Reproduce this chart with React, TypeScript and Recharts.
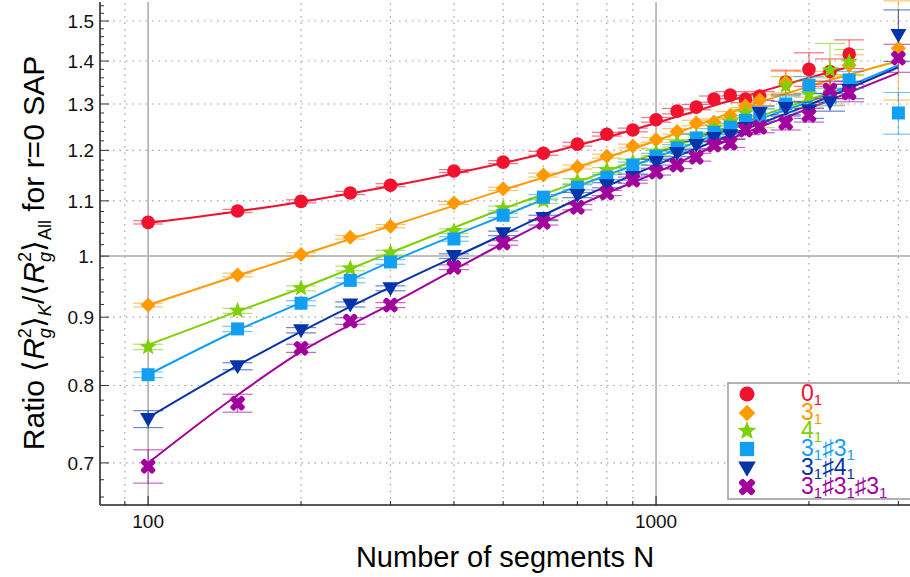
import React from 'react'
import { ComposedChart, Line, Scatter, ErrorBar, XAxis, YAxis, ReferenceLine } from 'recharts'

document.body.style.margin = '0'

// --- data ---
const N = [100, 150, 200, 250, 300, 400, 500, 600, 700, 800, 900, 1000, 1100, 1200, 1300, 1400, 1500, 1600, 1800, 2000, 2200, 2400, 3000]

const Y_01 = [1.060, 1.081, 1.099, 1.115, 1.130, 1.158, 1.176, 1.194, 1.213, 1.234, 1.243, 1.265, 1.284, 1.293, 1.311, 1.320, 1.311, 1.318, 1.350, 1.380, 1.375, 1.417, null]
const E_01 = [0.003, 0.003, 0.003, 0.003, 0.003, 0.003, 0.003, 0.004, 0.004, 0.004, 0.004, 0.005, 0.006, 0.006, 0.007, 0.008, 0.008, 0.01, 0.028, 0.04, 0.03, 0.035, 0]
const Y_31 = [0.919, 0.968, 1.003, 1.033, 1.053, 1.096, 1.123, 1.150, 1.166, 1.188, 1.209, 1.222, 1.240, 1.258, 1.260, 1.275, 1.296, 1.309, 1.350, 1.345, 1.330, 1.390, 1.431]
const E_31 = [0.003, 0.003, 0.003, 0.003, 0.003, 0.003, 0.003, 0.004, 0.004, 0.004, 0.004, 0.005, 0.006, 0.006, 0.007, 0.008, 0.008, 0.012, 0.025, 0.03, 0.03, 0.025, 0.122]
const Y_41 = [0.855, 0.910, 0.946, 0.979, 1.006, 1.044, 1.086, 1.100, 1.138, 1.160, 1.176, 1.196, 1.215, 1.228, 1.247, 1.260, 1.280, 1.268, 1.341, 1.322, 1.378, 1.398, null]
const E_41 = [0.004, 0.004, 0.004, 0.004, 0.004, 0.004, 0.004, 0.005, 0.005, 0.005, 0.006, 0.007, 0.008, 0.008, 0.009, 0.01, 0.012, 0.02, 0.022, 0.03, 0.065, 0.03, 0]
const Y_3131 = [0.815, 0.882, 0.922, 0.959, 0.990, 1.030, 1.073, 1.107, 1.126, 1.146, 1.170, 1.188, 1.205, 1.226, 1.238, 1.249, 1.264, 1.275, 1.300, 1.343, 1.316, 1.355, 1.280]
const E_3131 = [0.004, 0.004, 0.004, 0.004, 0.004, 0.004, 0.004, 0.005, 0.005, 0.005, 0.006, 0.006, 0.007, 0.008, 0.008, 0.009, 0.01, 0.015, 0.018, 0.02, 0.02, 0.02, 0.046]
const Y_3141 = [0.755, 0.827, 0.880, 0.920, 0.946, 1.000, 1.040, 1.068, 1.111, 1.130, 1.146, 1.176, 1.194, 1.211, 1.226, 1.232, 1.247, 1.280, 1.291, 1.286, 1.304, 1.332, 1.464]
const E_3141 = [0.011, 0.005, 0.004, 0.004, 0.004, 0.004, 0.004, 0.005, 0.005, 0.005, 0.006, 0.006, 0.007, 0.008, 0.008, 0.009, 0.01, 0.015, 0.015, 0.018, 0.02, 0.02, 0.065]
const Y_313131 = [0.696, 0.776, 0.853, 0.894, 0.919, 0.981, 1.023, 1.060, 1.088, 1.115, 1.140, 1.156, 1.170, 1.186, 1.211, 1.215, 1.243, 1.249, 1.258, 1.275, 1.332, 1.325, 1.407]
const E_313131 = [0.02, 0.012, 0.006, 0.005, 0.004, 0.004, 0.004, 0.005, 0.005, 0.005, 0.006, 0.006, 0.007, 0.008, 0.008, 0.009, 0.01, 0.012, 0.015, 0.015, 0.02, 0.02, 0.034]

// fitted curves, read at a few N
const FIT_N = [100, 150, 200, 300, 500, 700, 1000, 1500, 2000, 3000]
const FIT_N_SHORT = [100, 150, 200, 300, 500, 700, 1000, 1500, 2000, 2400]
const FIT_01 = [1.059, 1.080, 1.098, 1.128, 1.174, 1.210, 1.258, 1.318, 1.360, 1.386]
const FIT_31 = [0.919, 0.967, 1.002, 1.053, 1.121, 1.166, 1.220, 1.293, 1.340, 1.400]
const FIT_41 = [0.858, 0.909, 0.946, 1.006, 1.085, 1.136, 1.195, 1.262, 1.310, 1.340]
const FIT_3131 = [0.815, 0.880, 0.923, 0.990, 1.072, 1.128, 1.186, 1.256, 1.305, 1.390]
const FIT_3141 = [0.757, 0.828, 0.878, 0.948, 1.038, 1.103, 1.170, 1.245, 1.298, 1.385]
const FIT_313131 = [0.700, 0.787, 0.848, 0.920, 1.022, 1.090, 1.155, 1.237, 1.290, 1.372]

// axes
const X_MAJOR = [100, 1000]
const X_MINOR = [90, 200, 300, 400, 500, 600, 700, 800, 900, 2000, 3000]
const Y_MAJOR = [0.7, 0.8, 0.9, 1.0, 1.1, 1.2, 1.3, 1.4, 1.5]
const Y_MAJOR_LABELS = ['0.7', '0.8', '0.9', '1.', '1.1', '1.2', '1.3', '1.4', '1.5']
const Y_MINOR = [0.66, 0.68, 0.72, 0.74, 0.76, 0.78, 0.82, 0.84, 0.86, 0.88, 0.92, 0.94, 0.96, 0.98, 1.02, 1.04, 1.06, 1.08, 1.12, 1.14, 1.16, 1.18, 1.22, 1.24, 1.26, 1.28, 1.32, 1.34, 1.36, 1.38, 1.42, 1.44, 1.46, 1.48, 1.52, 1.54]

const LEGEND_LABELS = [
  ['0', '1'],
  ['3', '1'],
  ['4', '1'],
  ['3', '1', '♯3', '1'],
  ['3', '1', '♯4', '1'],
  ['3', '1', '♯3', '1', '♯3', '1'],
]

const W = 910
const H = 577
const PLOT_LEFT = 100
const PLOT_TOP = 2
const PLOT_BOTTOM = 505
const FONT = '"Liberation Sans", Arial, sans-serif'

const SERIES = [
  { key: '01', color: '#f0122f', shape: 'circle', y: Y_01, e: E_01, fx: FIT_N_SHORT, fy: FIT_01 },
  { key: '31', color: '#ff9a00', shape: 'diamond', y: Y_31, e: E_31, fx: FIT_N, fy: FIT_31 },
  { key: '41', color: '#7ed000', shape: 'star', y: Y_41, e: E_41, fx: FIT_N_SHORT, fy: FIT_41 },
  { key: '3131', color: '#129ff2', shape: 'square', y: Y_3131, e: E_3131, fx: FIT_N, fy: FIT_3131 },
  { key: '3141', color: '#0533a8', shape: 'tri', y: Y_3141, e: E_3141, fx: FIT_N, fy: FIT_3141 },
  { key: '313131', color: '#a1009d', shape: 'x', y: Y_313131, e: E_313131, fx: FIT_N, fy: FIT_313131 },
]

function Marker({ kind, cx, cy, color, s = 1 }: any) {
  if (cx == null || cy == null) return null
  switch (kind) {
    case 'circle':
      return <circle cx={cx} cy={cy} r={6.8 * s} fill={color} />
    case 'diamond': {
      const d = 7.5 * s
      return <polygon points={`${cx},${cy - d} ${cx + d},${cy} ${cx},${cy + d} ${cx - d},${cy}`} fill={color} />
    }
    case 'star': {
      const pts = []
      for (let i = 0; i < 10; i++) {
        const a = (-90 + i * 36) * Math.PI / 180
        const r = (i % 2 === 0 ? 9 : 3.8) * s
        pts.push(`${cx + r * Math.cos(a)},${cy + r * Math.sin(a)}`)
      }
      return <polygon points={pts.join(' ')} fill={color} />
    }
    case 'square': {
      const h = 6.5 * s
      return <rect x={cx - h} y={cy - h} width={2 * h} height={2 * h} fill={color} />
    }
    case 'tri':
      return <polygon points={`${cx - 8 * s},${cy - 6 * s} ${cx + 8 * s},${cy - 6 * s} ${cx},${cy + 8 * s}`} fill={color} />
    case 'x':
      return (
        <g transform={`rotate(45 ${cx} ${cy})`} fill={color}>
          <rect x={cx - 8.5 * s} y={cy - 3 * s} width={17 * s} height={6 * s} rx={2} />
          <rect x={cx - 3 * s} y={cy - 8.5 * s} width={6 * s} height={17 * s} rx={2} />
        </g>
      )
  }
  return null
}

function XTick(props: any) {
  const { x, payload } = props
  const v = payload.value
  const major = X_MAJOR.includes(v)
  return (
    <g>
      <line x1={x} x2={x} y1={PLOT_BOTTOM} y2={PLOT_BOTTOM - (major ? 9 : 4)} stroke="#222" strokeWidth={1} />
      {major && (
        <text x={x} y={PLOT_BOTTOM + 23} textAnchor="middle" fontSize={19} fill="#111" fontFamily={FONT}>{v}</text>
      )}
    </g>
  )
}

function YTick(props: any) {
  const { y, payload } = props
  const v = payload.value
  const idx = Y_MAJOR.indexOf(v)
  const major = idx >= 0
  return (
    <g>
      <line x1={PLOT_LEFT} x2={PLOT_LEFT + (major ? 9 : 4)} y1={y} y2={y} stroke="#333" strokeWidth={1} />
      {major && (
        <text x={PLOT_LEFT - 6} y={y} dy="0.36em" textAnchor="end" fontSize={19} fill="#111" fontFamily={FONT}>{Y_MAJOR_LABELS[idx]}</text>
      )}
    </g>
  )
}

function YLabel() {
  const big = 30
  const sm = 18
  return (
    <text x={44} y={253} transform="rotate(-90 44 253)" textAnchor="middle" fontSize={big} fill="#000" fontFamily={FONT}>
      <tspan>Ratio ⟨</tspan>
      <tspan fontStyle="italic">R</tspan>
      <tspan fontStyle="italic" fontSize={sm} dy={7}>g</tspan>
      <tspan fontSize={sm} dx={-10} dy={-20}>2</tspan>
      <tspan dy={13}>⟩</tspan>
      <tspan fontStyle="italic" fontSize={sm} dy={7}>K</tspan>
      <tspan dy={-7}>/⟨</tspan>
      <tspan fontStyle="italic">R</tspan>
      <tspan fontStyle="italic" fontSize={sm} dy={7}>g</tspan>
      <tspan fontSize={sm} dx={-10} dy={-20}>2</tspan>
      <tspan dy={13}>⟩</tspan>
      <tspan fontSize={sm} dy={7}>All</tspan>
      <tspan dy={-7}> for r=0 SAP</tspan>
    </text>
  )
}

function LegendBox() {
  const rowY = [394, 413, 431, 449, 468, 487]
  return (
    <g>
      <rect x={728} y={383} width={190} height={116} fill="#fff" stroke="#999" strokeWidth={1.5} />
      {SERIES.map((s, i) => (
        <g key={s.key}>
          <Marker kind={s.shape} cx={747} cy={rowY[i]} color={s.color} s={1.1} />
          <text x={801} y={rowY[i] + 7} fontSize={23} fill={s.color} fontFamily={FONT}>
            {LEGEND_LABELS[i].map((t, j) => (
              <tspan key={j} fontSize={j % 2 === 1 ? 15 : 23} dy={j === 0 ? 0 : j % 2 === 1 ? 4 : -4}>{t}</tspan>
            ))}
          </text>
        </g>
      ))}
    </g>
  )
}

export default function App() {
  const points = SERIES.map((s) =>
    N.map((n, i) => ({ x: n, y: s.y[i], e: s.e[i] })).filter((p) => p.y != null)
  )
  const fits = SERIES.map((s) => s.fx.map((n, i) => ({ x: n, y: s.fy[i] })))

  return (
    <div style={{ position: 'relative', width: W, height: H, background: '#fff', fontFamily: FONT }}>
      <ComposedChart width={W} height={H} margin={{ top: PLOT_TOP, right: 0, bottom: 0, left: 0 }}>
        <XAxis
          dataKey="x"
          type="number"
          scale="log"
          domain={[80.4, 3162]}
          allowDataOverflow
          ticks={[...X_MINOR, ...X_MAJOR].sort((a, b) => a - b)}
          interval={0}
          tick={<XTick />}
          tickLine={false}
          height={72}
          axisLine={{ stroke: '#222', strokeWidth: 1.5 }}
        />
        <YAxis
          type="number"
          scale="log"
          domain={[0.651, 1.55]}
          allowDataOverflow
          ticks={[...Y_MINOR, ...Y_MAJOR].sort((a, b) => a - b)}
          interval={0}
          tick={<YTick />}
          tickLine={false}
          width={100}
          axisLine={{ stroke: '#555', strokeWidth: 2 }}
        />
        {X_MINOR.map((v) => (
          <ReferenceLine key={'gx' + v} x={v} stroke="#a0a0a0" strokeWidth={1.2} strokeDasharray="1.5 5" />
        ))}
        {Y_MAJOR.filter((v) => v !== 1.0).map((v) => (
          <ReferenceLine key={'gy' + v} y={v} stroke="#a0a0a0" strokeWidth={1.2} strokeDasharray="1.5 5" />
        ))}
        {X_MAJOR.map((v) => (
          <ReferenceLine key={'sx' + v} x={v} stroke="#aaaaaa" strokeWidth={1.5} />
        ))}
        <ReferenceLine y={1.0} stroke="#aaaaaa" strokeWidth={1.5} />
        {SERIES.map((s, i) => (
          <Line
            key={'fit' + s.key}
            data={fits[i]}
            dataKey="y"
            type="monotone"
            stroke={s.color}
            strokeWidth={2}
            dot={false}
            activeDot={false}
            isAnimationActive={false}
          />
        ))}
        {SERIES.map((s, i) => (
          <Scatter
            key={'pts' + s.key}
            data={points[i]}
            dataKey="y"
            fill={s.color}
            isAnimationActive={false}
            shape={(p: any) => <Marker kind={s.shape} cx={p.cx} cy={p.cy} color={s.color} />}
          >
            <ErrorBar dataKey="e" direction="y" width={15} stroke={s.color} strokeWidth={1.2} strokeOpacity={0.6} />
          </Scatter>
        ))}
      </ComposedChart>
      <svg width={W} height={H} style={{ position: 'absolute', left: 0, top: 0, pointerEvents: 'none' }}>
        <YLabel />
        <text x={505} y={567} textAnchor="middle" fontSize={29} fill="#000" fontFamily={FONT}>Number of segments N</text>
        <LegendBox />
      </svg>
    </div>
  )
}
